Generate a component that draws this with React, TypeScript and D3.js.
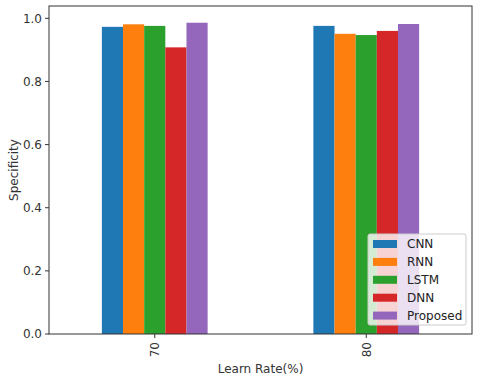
import React, { useEffect, useRef } from 'react';
import * as d3 from 'd3';

const categories = ['70', '80'];
const models = ['CNN', 'RNN', 'LSTM', 'DNN', 'Proposed'];
const colors = ['#1f77b4', '#ff7f0e', '#2ca02c', '#d62728', '#9467bd'];
// one array per model, value for each learn rate
const cnn = [0.973, 0.976];
const rnn = [0.981, 0.951];
const lstm = [0.976, 0.947];
const dnn = [0.908, 0.960];
const proposed = [0.986, 0.982];
const yTicks = [0, 0.2, 0.4, 0.6, 0.8, 1.0];

const series = [cnn, rnn, lstm, dnn, proposed];

const W = 480;
const H = 380;
const left = 49;
const right = 472;
const top = 6;
const bottom = 334;

function Chart() {
    const ref = useRef<SVGSVGElement>(null);

    useEffect(() => {
        const svg = d3.select(ref.current);
        svg.selectAll('*').remove();
        const font = 'DejaVu Sans, sans-serif';

        const x = d3.scaleLinear().domain([-0.5, categories.length - 0.5]).range([left, right]);
        const y = d3.scaleLinear().domain([0, 1.039]).range([bottom, top]);
        const groupWidth = 0.5;
        const barW = groupWidth / models.length;

        const g = svg.append('g');
        series.forEach((vals, si) => {
            g.selectAll(null)
                .data(vals)
                .enter()
                .append('rect')
                .attr('x', (d, i) => x(i - groupWidth / 2 + si * barW))
                .attr('width', x(barW) - x(0))
                .attr('y', d => y(d))
                .attr('height', d => y(0) - y(d))
                .attr('fill', colors[si]);
        });

        // frame
        svg.append('rect')
            .attr('x', left).attr('y', top)
            .attr('width', right - left).attr('height', bottom - top)
            .attr('fill', 'none').attr('stroke', '#333').attr('stroke-width', 1);

        // y axis
        const ya = svg.append('g');
        yTicks.forEach(t => {
            ya.append('line')
                .attr('x1', left - 4).attr('x2', left)
                .attr('y1', y(t)).attr('y2', y(t))
                .attr('stroke', '#333');
            ya.append('text')
                .attr('x', left - 7).attr('y', y(t))
                .attr('dy', '0.35em')
                .attr('text-anchor', 'end')
                .attr('font-family', font).attr('font-size', 12)
                .attr('fill', '#333')
                .text(t.toFixed(1));
        });

        // x axis
        categories.forEach((c, i) => {
            svg.append('line')
                .attr('x1', x(i)).attr('x2', x(i))
                .attr('y1', bottom).attr('y2', bottom + 4)
                .attr('stroke', '#333');
            svg.append('text')
                .attr('transform', `translate(${x(i) + 4.5},${bottom + 8}) rotate(-90)`)
                .attr('text-anchor', 'end')
                .attr('font-family', font).attr('font-size', 12)
                .attr('fill', '#333')
                .text(c);
        });

        svg.append('text')
            .attr('x', (left + right) / 2).attr('y', 373)
            .attr('text-anchor', 'middle')
            .attr('font-family', font).attr('font-size', 12)
            .attr('fill', '#333')
            .text('Learn Rate(%)');

        svg.append('text')
            .attr('transform', `translate(18,${(top + bottom) / 2}) rotate(-90)`)
            .attr('text-anchor', 'middle')
            .attr('font-family', font).attr('font-size', 12)
            .attr('fill', '#333')
            .text('Specificity');

        // legend
        const lg = svg.append('g').attr('transform', 'translate(368,234)');
        lg.append('rect')
            .attr('width', 98).attr('height', 91)
            .attr('rx', 2)
            .attr('fill', 'white').attr('fill-opacity', 0.8)
            .attr('stroke', '#ccc');
        models.forEach((m, i) => {
            const cy = 10 + i * 17.9;
            lg.append('rect')
                .attr('x', 5).attr('y', cy - 4)
                .attr('width', 24).attr('height', 8)
                .attr('fill', colors[i]);
            lg.append('text')
                .attr('x', 39).attr('y', cy)
                .attr('dy', '0.35em')
                .attr('font-family', font).attr('font-size', 12)
                .attr('fill', '#222')
                .text(m);
        });
    }, []);

    return <svg ref={ref} width={W} height={H} style={{ display: 'block' }} />;
}

export default function App() {
    return (
        <div style={{ position: 'absolute', left: 0, top: 0 }}>
            <Chart />
        </div>
    );
}
